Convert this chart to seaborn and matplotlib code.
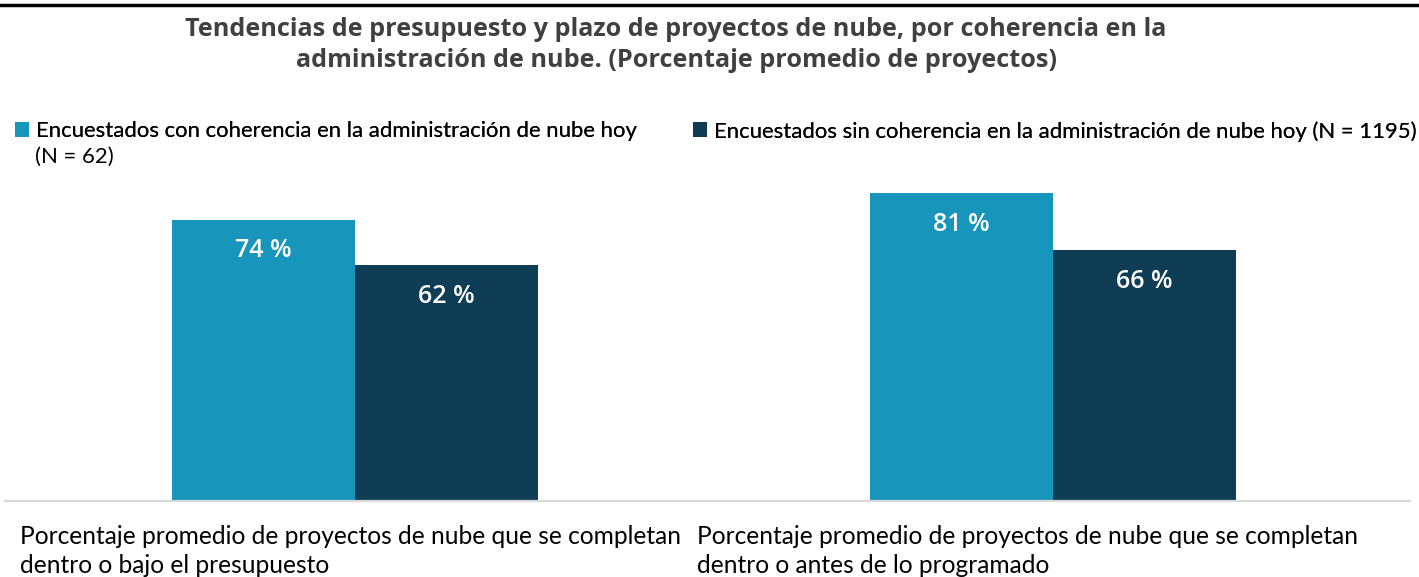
import matplotlib
matplotlib.use("Agg")
import matplotlib.pyplot as plt
import seaborn as sns
import pandas as pd
from matplotlib.lines import Line2D
from matplotlib.patches import Patch
from matplotlib import transforms

# ---------------- data ----------------
categories = [
    "Porcentaje promedio de proyectos de nube que se completan\ndentro o bajo el presupuesto",
    "Porcentaje promedio de proyectos de nube que se completan\ndentro o antes de lo programado",
]
series_names = [
    "Encuestados con coherencia en la administración de nube hoy\n(N = 62)",
    "Encuestados sin coherencia en la administración de nube hoy (N = 1195)",
]
values_con = [74, 81]
values_sin = [62, 66]
title = ("Tendencias de presupuesto y plazo de proyectos de nube, por coherencia en la\n"
         "administración de nube. (Porcentaje promedio de proyectos)")
colors = ["#1795bb", "#0f3d55"]

df = pd.DataFrame({
    "cat": categories * 2,
    "serie": [series_names[0]] * 2 + [series_names[1]] * 2,
    "valor": values_con + values_sin,
})

BODY = "Lato"
HEAD = "Open Sans"

W, H = 1419, 577
fig = plt.figure(figsize=(W / 100, H / 100), dpi=100)
renderer = fig.canvas.get_renderer()


def fit_size(text, target_px, **kw):
    t = fig.text(0, 0, text, fontsize=10, **kw)
    w = t.get_window_extent(renderer).width
    t.remove()
    return 10 * target_px / w


ax = fig.add_axes([5 / W, (H - 501) / H, 1405 / W, 380 / H])
sns.barplot(data=df, x="cat", y="valor", hue="serie", palette=colors,
            width=0.524, gap=0, saturation=1, errorbar=None, legend=False, ax=ax)
ax.set_ylim(0, 100)
ax.set_xlim(-0.5014, 1.5115)
for s in ["top", "left", "right"]:
    ax.spines[s].set_visible(False)
ax.spines["bottom"].set_color("#d9d9d9")
ax.spines["bottom"].set_linewidth(1.6)
ax.set_xticks([])
ax.set_yticks([])
ax.set_xlabel("")
ax.set_ylabel("")
ax.patch.set_alpha(0)

# bar labels
lab_size = fit_size("74 %", 57, family=HEAD, fontweight="semibold")
for cont in ax.containers:
    anns = ax.bar_label(cont, labels=[f"{b.get_height():.0f} %" for b in cont],
                        padding=-22.3, color="white", fontweight="semibold",
                        family=HEAD, fontsize=lab_size)
    for a in anns:
        a.set_va("center")

# category labels
cat_size = fit_size(categories[0], 663, family=BODY)
trans = transforms.blended_transform_factory(ax.transData, ax.transAxes)
for x, cat in zip([-0.480, 0.490], categories):
    ax.text(x, -(551 - 501) / 380, cat, transform=trans, ha="left", va="center",
            fontsize=cat_size, family=BODY, color="black", linespacing=1.3,
            clip_on=False)

# title
title_size = fit_size(title, 985, family=HEAD, fontweight="bold")
fig.text(676 / W, 1 - 45 / H, title, ha="center", va="center", fontsize=title_size,
         family=HEAD, fontweight="bold", color="#404040", linespacing=1.3)

# top rule
fig.add_artist(Line2D([0, 1], [1 - 5 / H] * 2, transform=fig.transFigure,
                      color="black", lw=2.5))

# legends (handle aligned with the first line of each label)
leg_size = fit_size(series_names[1], 702, family=BODY)
for (x, y), name, c in zip([(15, 121), (693, 121)], series_names, colors):
    first, *rest = name.split("\n")
    lg = fig.legend(handles=[Patch(facecolor=c, edgecolor="none")], labels=[first],
                    loc="upper left", bbox_to_anchor=(x / W, 1 - y / H),
                    frameon=False, handlelength=0.65, handleheight=0.65,
                    handletextpad=0.3, borderpad=0, borderaxespad=0,
                    prop={"family": BODY, "size": leg_size})
    fig.add_artist(lg)
    for k, line in enumerate(rest):
        fig.text(35 / W, 1 - (157 + 26 * k) / H, line, ha="left", va="center",
                 family=BODY, fontsize=leg_size, color="black")

fig.savefig("out.png", dpi=100)
